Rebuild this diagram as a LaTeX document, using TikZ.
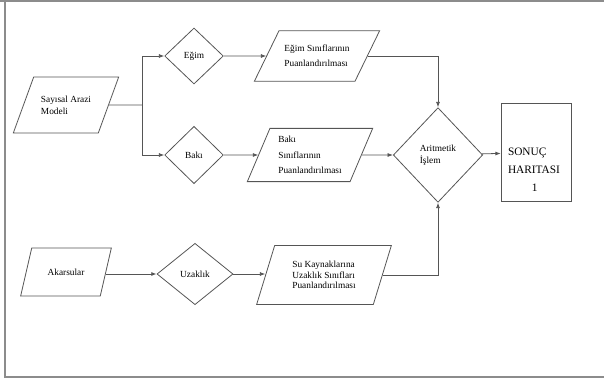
\documentclass[tikz,border=0pt]{standalone}
\usepackage{fontspec}
\setmainfont{Liberation Serif}
\usepackage{tikz}
\usetikzlibrary{arrows.meta,positioning,shapes.geometric}
\definecolor{flowline}{RGB}{85,85,85}
\definecolor{frameline}{RGB}{140,140,140}

\begin{document}
\begin{tikzpicture}[
    x=0.75pt, y=-0.75pt,
    databox/.style={draw=flowline, trapezium, trapezium stretches body, trapezium left angle=#1, trapezium right angle=180-#1, inner xsep=1pt, align=left, font=\fontsize{7}{9}\selectfont, line width=0.6pt},
    decision/.style={draw=flowline, diamond, inner sep=0pt, align=left, font=\fontsize{7}{9}\selectfont, line width=0.6pt},
    result/.style={draw=flowline, rectangle, line width=0.6pt},
    arrow/.style={-{Latex[length=4pt,width=3pt]}, flowline, line width=0.6pt},
    link/.style={flowline, line width=0.6pt}
]
\useasboundingbox (0,0) rectangle (604,382);

% frame
\draw[frameline, line width=1.2pt] (0,1) -- (604,1);
\draw[frameline, line width=1.2pt] (5,0) -- (5,377) -- (604,377);

% inputs
\node[databox=70, inner ysep=14pt, minimum width=79pt] (sam) at (66,105) {Sayısal Arazi\\Modeli};
\node[databox=77, inner ysep=15.5pt, minimum width=68pt] (akarsu) at (66,272) {Akarsular};

% decisions
\node[decision, minimum width=44pt, minimum height=42pt] (egim) at (194,56) {Eğim};
\node[decision, minimum width=44pt, minimum height=43pt] (baki) at (194,155) {Bakı};
\node[decision, minimum width=57pt, minimum height=46pt] (uzaklik) at (195,274) {Uzaklık};

% scoring
\node[databox=64, inner ysep=11pt, minimum width=94pt, font=\fontsize{7}{11}\selectfont] (egimpuan) at (317,56) {Eğim Sınıflarının\\Puanlandırılması};
\node[databox=67, inner ysep=6pt, minimum width=94pt, font=\fontsize{7}{11.5}\selectfont] (bakipuan) at (310,155) {Bakı\\Sınıflarının\\Puanlandırılması};
\node[databox=73, inner ysep=11.5pt, minimum width=101pt, font=\fontsize{7}{8.1}\selectfont] (supuan) at (324,275) {Su Kaynaklarına\\Uzaklık Sınıfları\\Puanlandırılması};

% combine and output
\node[decision, minimum width=67pt, minimum height=71pt] (islem) at (438,155) {Aritmetik\\İşlem};
\node[result, minimum width=53pt, minimum height=74pt] (sonuc) at (536.5,152.5) {};
\node[align=left, font=\fontsize{8.5}{13.5}\selectfont, inner sep=0pt] (sonuctext) at (534,170) {SONUÇ\\HARITASI\\\hspace*{2.1em}1};

% connectors
\coordinate (split) at (142,105);
\draw[link] (sam) -- (split);
\draw[arrow] (split) |- (egim);
\draw[arrow] (split) |- (baki);
\draw[arrow] (egim) -- (egimpuan);
\draw[arrow] (baki) -- (bakipuan);
\draw[arrow] (egimpuan) -| (islem);
\draw[arrow] (bakipuan) -- (islem);
\draw[arrow] (akarsu.east |- uzaklik) -- (uzaklik);
\draw[arrow] (uzaklik) -- (supuan.west |- uzaklik);
\draw[arrow] (supuan) -| (islem);
\draw[arrow] (islem) -- (sonuc);

\end{tikzpicture}
\end{document}
